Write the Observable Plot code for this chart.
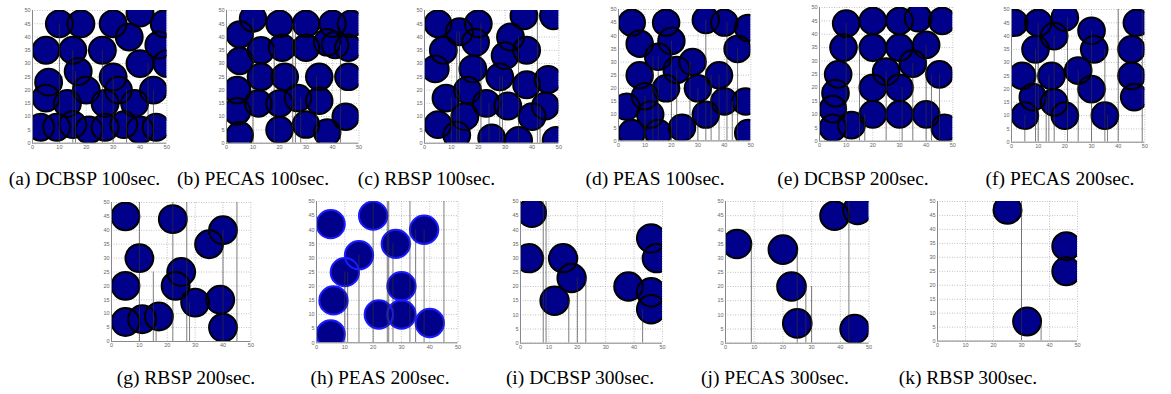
<!DOCTYPE html>
<html><head><meta charset="utf-8">
<script src="https://cdn.jsdelivr.net/npm/d3@7"></script>
<script src="https://cdn.jsdelivr.net/npm/@observablehq/plot@0.6"></script>
<style>
body{margin:0;background:#fff;}
#root{position:relative;width:1171px;height:394px;overflow:hidden;background:#fff;}
.panel{position:absolute;}
.cap{position:absolute;font-family:"Liberation Serif","Times New Roman",serif;font-size:19.5px;white-space:nowrap;transform:translate(-50%,-50%);color:#000;}
</style></head><body><div id="root"></div>
<script>
// axis ticks
const xTicks = [0, 10, 20, 30, 40, 50];
const yTicks = [0, 5, 10, 15, 20, 25, 30, 35, 40, 45, 50];
const sensingRadius = 5;

const captions = ["(a) DCBSP 100sec.", "(b) PECAS 100sec.", "(c) RBSP 100sec.", "(d) PEAS 100sec.",
  "(e) DCBSP 200sec.", "(f) PECAS 200sec.", "(g) RBSP 200sec.", "(h) PEAS 200sec.",
  "(i) DCBSP 300sec.", "(j) PECAS 300sec.", "(k) RBSP 300sec."];

// active sensor positions [x, y]
const sensorsA = [[10,45],[18,45],[30,45],[40,49],[49,45],[36,40],[5,35],[15,35],[26,35],[47,37],[17,27],[40,30],[50,30],[30,25],[6,23],[20,20],[32,20],[45,20],[5,17],[13,15],[27,15],[38,15],[3,6],[9,6],[15,7],[21,5],[27,6],[34,7],[40,5],[46,6]];
const sensorsB = [[10,47],[20,45],[30,45],[40,45],[47,45],[5,41],[13,35],[21,36],[30,36],[38,38],[41,37],[46,36],[5,31],[13,25],[22,25],[35,25],[46,25],[4,20],[4,12],[12,15],[20,15],[27,17],[35,16],[45,10],[5,3],[20,5],[30,7],[38,4]];
const sensorsC = [[5,45],[13,42],[20,45],[37,48],[48,48],[19,38],[32,40],[7,35],[30,33],[38,35],[4,28],[18,28],[28,25],[46,24],[38,22],[16,20],[8,17],[23,15],[31,14],[45,14],[15,10],[40,10],[5,7],[12,3],[25,2],[35,1],[49,1]];
const sensorsD = [[5,45],[18,45],[33,46],[40,45],[49,43],[8,37],[20,38],[15,32],[45,35],[28,30],[22,27],[8,25],[38,25],[18,20],[30,20],[10,17],[40,15],[48,15],[3,13],[12,10],[33,10],[5,3],[15,3],[24,5],[49,3]];
const sensorsE = [[10,44],[20,45],[30,45],[37,46],[46,45],[9,35],[20,35],[30,35],[40,36],[35,29],[25,26],[7,25],[45,25],[20,20],[30,20],[6,18],[5,12],[20,10],[30,10],[40,10],[5,5],[12,6],[47,5]];
const sensorsF = [[1,45],[10,45],[20,47],[16,40],[30,42],[47,45],[9,35],[31,35],[45,35],[4,25],[15,25],[25,27],[45,25],[30,20],[8,17],[16,15],[46,17],[5,10],[20,10],[35,10]];
const sensorsG = [[5,45],[22,44],[40,40],[35,35],[10,30],[25,25],[5,20],[23,20],[30,14],[39,15],[5,7],[11,8],[17,9],[40,5]];
const sensorsH = [[5,42],[20,45],[38,40],[28,35],[15,31],[10,25],[30,20],[6,15],[22,10],[30,10],[40,7],[5,3]];
const sensorsI = [[4,46],[3,30],[15,30],[18,23],[12,15],[38,20],[46,37],[48,30],[46,18],[46,12]];
const sensorsJ = [[4,35],[20,33],[23,20],[25,7],[38,45],[46,47],[45,5]];
const sensorsK = [[25,47],[32,7],[46,34],[46,25]];

// vertical link lines [x, top y]
const linksA = [[10,45],[15,35],[16,27],[26,35],[30,25],[35,20],[43,30],[45,20]];
const linksB = [[10,47],[18,36],[25,45],[26,45],[28,17],[34,25],[43,37]];
const linksC = [[10,17],[12,42],[13,42],[21,45],[24,15],[28,25],[29,25],[35,40],[42,48],[43,14]];
const linksD = [[10,17],[13,32],[15,32],[20,38],[22,27],[27,30],[30,20],[33,46],[35,25],[38,25],[41,45],[43,15],[45,35]];
const linksE = [[10,44],[15,35],[17,10],[25,26],[31,20],[35,29],[40,36],[42,25],[45,25]];
const linksF = [[5,10],[9,35],[10,45],[13,17],[14,25],[16,40],[21,47],[25,27],[30,42],[35,35],[36,10],[40,50],[49,50]];
const linksG = [[10,50],[15,25],[16,5],[22,50],[27,50],[28,14],[40,40],[45,50]];
const linksH = [[10,25],[11,25],[15,31],[20,50],[25,50],[25.5,50],[27,35],[33,50],[35,40],[38,40],[45,50]];
const linksI = [[8,50],[9,50],[17,15],[20,23],[23,23],[43,12]];
const linksJ = [[9,35],[25,33],[28,20],[30,20],[43,50]];
const linksK = [[30,50],[37,7]];

// layout: plot frame [left, top, width, height] and caption center [x, y]
const layout = [
  {frame:[32.3,10,134.4,132.7], cap:[84.5,179]},
  {frame:[226.3,10,132.5,132.7], cap:[253,179]},
  {frame:[424.3,10,134.4,132.7], cap:[426.5,179]},
  {frame:[617.7,9.3,132.3,131.4], cap:[655,179]},
  {frame:[819,7.3,133.3,133.7], cap:[853,179]},
  {frame:[1011.3,9,133.4,132.7], cap:[1060,179]},
  {frame:[111.3,202,139.4,139], cap:[186,378]},
  {frame:[315.7,201,141.6,141.3], cap:[380,378]},
  {frame:[520.3,201,142,141.7], cap:[580,378]},
  {frame:[725.3,201,143.5,141.7], cap:[775,378]},
  {frame:[937.3,201,140,139.6], cap:[968,378]}
];
const allSensors = [sensorsA,sensorsB,sensorsC,sensorsD,sensorsE,sensorsF,sensorsG,sensorsH,sensorsI,sensorsJ,sensorsK];
const allLinks = [linksA,linksB,linksC,linksD,linksE,linksF,linksG,linksH,linksI,linksJ,linksK];
const edgeColors = ["#000","#000","#000","#000","#000","#000","#000","#1a1aff","#000","#000","#000"];

const root = document.getElementById("root");
const mL = 16, mR = 6, mT = 6, mB = 12;
layout.forEach((L, i) => {
  const [x0, y0, w, h] = L.frame;
  const chart = Plot.plot({
    width: w + mL + mR, height: h + mT + mB,
    marginLeft: mL, marginRight: mR, marginTop: mT, marginBottom: mB,
    x: {domain: [0, 50]},
    y: {domain: [0, 50]},
    r: {type: "linear", domain: [0, 50], range: [0, w]},
    style: {background: "transparent", fontFamily: "'Liberation Sans', Arial, sans-serif", fontSize: "5.5px", overflow: "visible"},
    marks: [
      Plot.gridX(xTicks, {stroke: "#999", strokeOpacity: 1, strokeWidth: 0.6, strokeDasharray: "1,1.5"}),
      Plot.gridY(yTicks, {stroke: "#999", strokeOpacity: 1, strokeWidth: 0.6, strokeDasharray: "1,1.5"}),
      Plot.dot(allSensors[i], {x: d => d[0], y: d => d[1], r: () => sensingRadius, fill: "#00008b", stroke: "none", clip: true}),
      Plot.dot(allSensors[i], {x: d => d[0], y: d => d[1], r: () => sensingRadius, fill: "none", stroke: edgeColors[i], strokeWidth: 2, clip: true}),
      Plot.ruleX(allLinks[i], {x: d => d[0], y1: () => 0, y2: d => d[1], stroke: "#333", strokeOpacity: 0.8, strokeWidth: 0.8, clip: true}),
      Plot.ruleX([0], {stroke: "#888", strokeWidth: 1}),
      Plot.ruleY([0], {stroke: "#888", strokeWidth: 1}),
      Plot.axisX(xTicks, {tickSize: 0, tickPadding: 2, fill: "#666", fontSize: 5.5}),
      Plot.axisY(yTicks, {tickSize: 0, tickPadding: 2, fill: "#666", fontSize: 5.5})
    ]
  });
  const div = document.createElement("div");
  div.className = "panel";
  div.style.left = (x0 - mL) + "px";
  div.style.top = (y0 - mT) + "px";
  div.appendChild(chart);
  root.appendChild(div);
  const cap = document.createElement("div");
  cap.className = "cap";
  cap.style.left = L.cap[0] + "px";
  cap.style.top = L.cap[1] + "px";
  cap.textContent = captions[i];
  root.appendChild(cap);
});
</script>
</body></html>
